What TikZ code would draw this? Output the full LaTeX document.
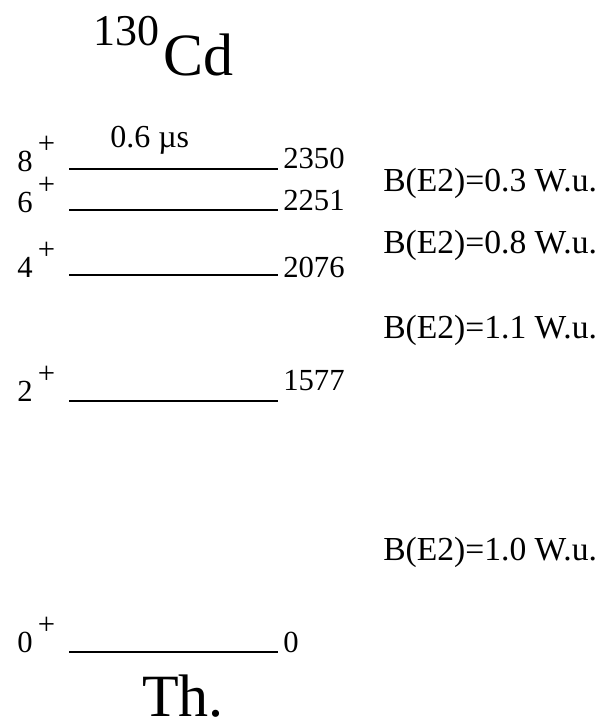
\documentclass[tikz,border=0pt]{standalone}
\usepackage{fontspec}
\setmainfont{Liberation Serif}
\begin{document}
\begin{tikzpicture}[x=0.75pt,y=-0.75pt,
  lbl/.style={inner sep=0pt,anchor=base west,font=\fontsize{23}{26}\selectfont},
  bel/.style={inner sep=0pt,anchor=base west,font=\fontsize{25.2}{28}\selectfont},
  big/.style={inner sep=0pt,anchor=base west,font=\fontsize{45}{50}\selectfont},
  lev/.style={line width=1.5pt}]
\useasboundingbox (0,0) rectangle (600,726);
% title
\node[inner sep=0pt,anchor=base west,font=\fontsize{33}{36}\selectfont] (mass) at (93,45) {130};
\node[big] (cd) at (163,75) {Cd};
% levels
\coordinate (l8a) at (69,169); \coordinate (l8b) at (278,169);
\coordinate (l6a) at (69,210); \coordinate (l6b) at (278,210);
\coordinate (l4a) at (69,275); \coordinate (l4b) at (278,275);
\coordinate (l2a) at (69,401); \coordinate (l2b) at (278,401);
\coordinate (l0a) at (69,652); \coordinate (l0b) at (278,652);
\draw[lev] (l8a) -- (l8b);
\draw[lev] (l6a) -- (l6b);
\draw[lev] (l4a) -- (l4b);
\draw[lev] (l2a) -- (l2b);
\draw[lev] (l0a) -- (l0b);
% spins
\newcommand{\spn}[1]{#1\raisebox{0.58em}{\kern4pt\fontsize{23}{24}\selectfont +}}
\node[lbl] (s8) at (17,171) {\spn{8}};
\node[lbl] (s6) at (17,212) {\spn{6}};
\node[lbl] (s4) at (17,277) {\spn{4}};
\node[lbl] (s2) at (17,401) {\spn{2}};
\node[lbl] (s0) at (17,652) {\spn{0}};
% energies
\node[lbl] (e8) at (283,168) {2350};
\node[lbl] (e6) at (283,210) {2251};
\node[lbl] (e4) at (283,277) {2076};
\node[lbl] (e2) at (283,390) {1577};
\node[lbl] (e0) at (283,652) {0};
% lifetime
\node[inner sep=0pt,anchor=base west,font=\fontsize{24}{26}\selectfont] (tau) at (110,147) {0.6 µs};
% B(E2)
\node[bel] (b1) at (383,191) {B(E2)=0.3 W.u.};
\node[bel] (b2) at (383,253) {B(E2)=0.8 W.u.};
\node[bel] (b3) at (383,338) {B(E2)=1.1 W.u.};
\node[bel] (b4) at (383,560) {B(E2)=1.0 W.u.};
% Th.
\node[big] (th) at (142,716) {Th.};
\end{tikzpicture}
\end{document}
